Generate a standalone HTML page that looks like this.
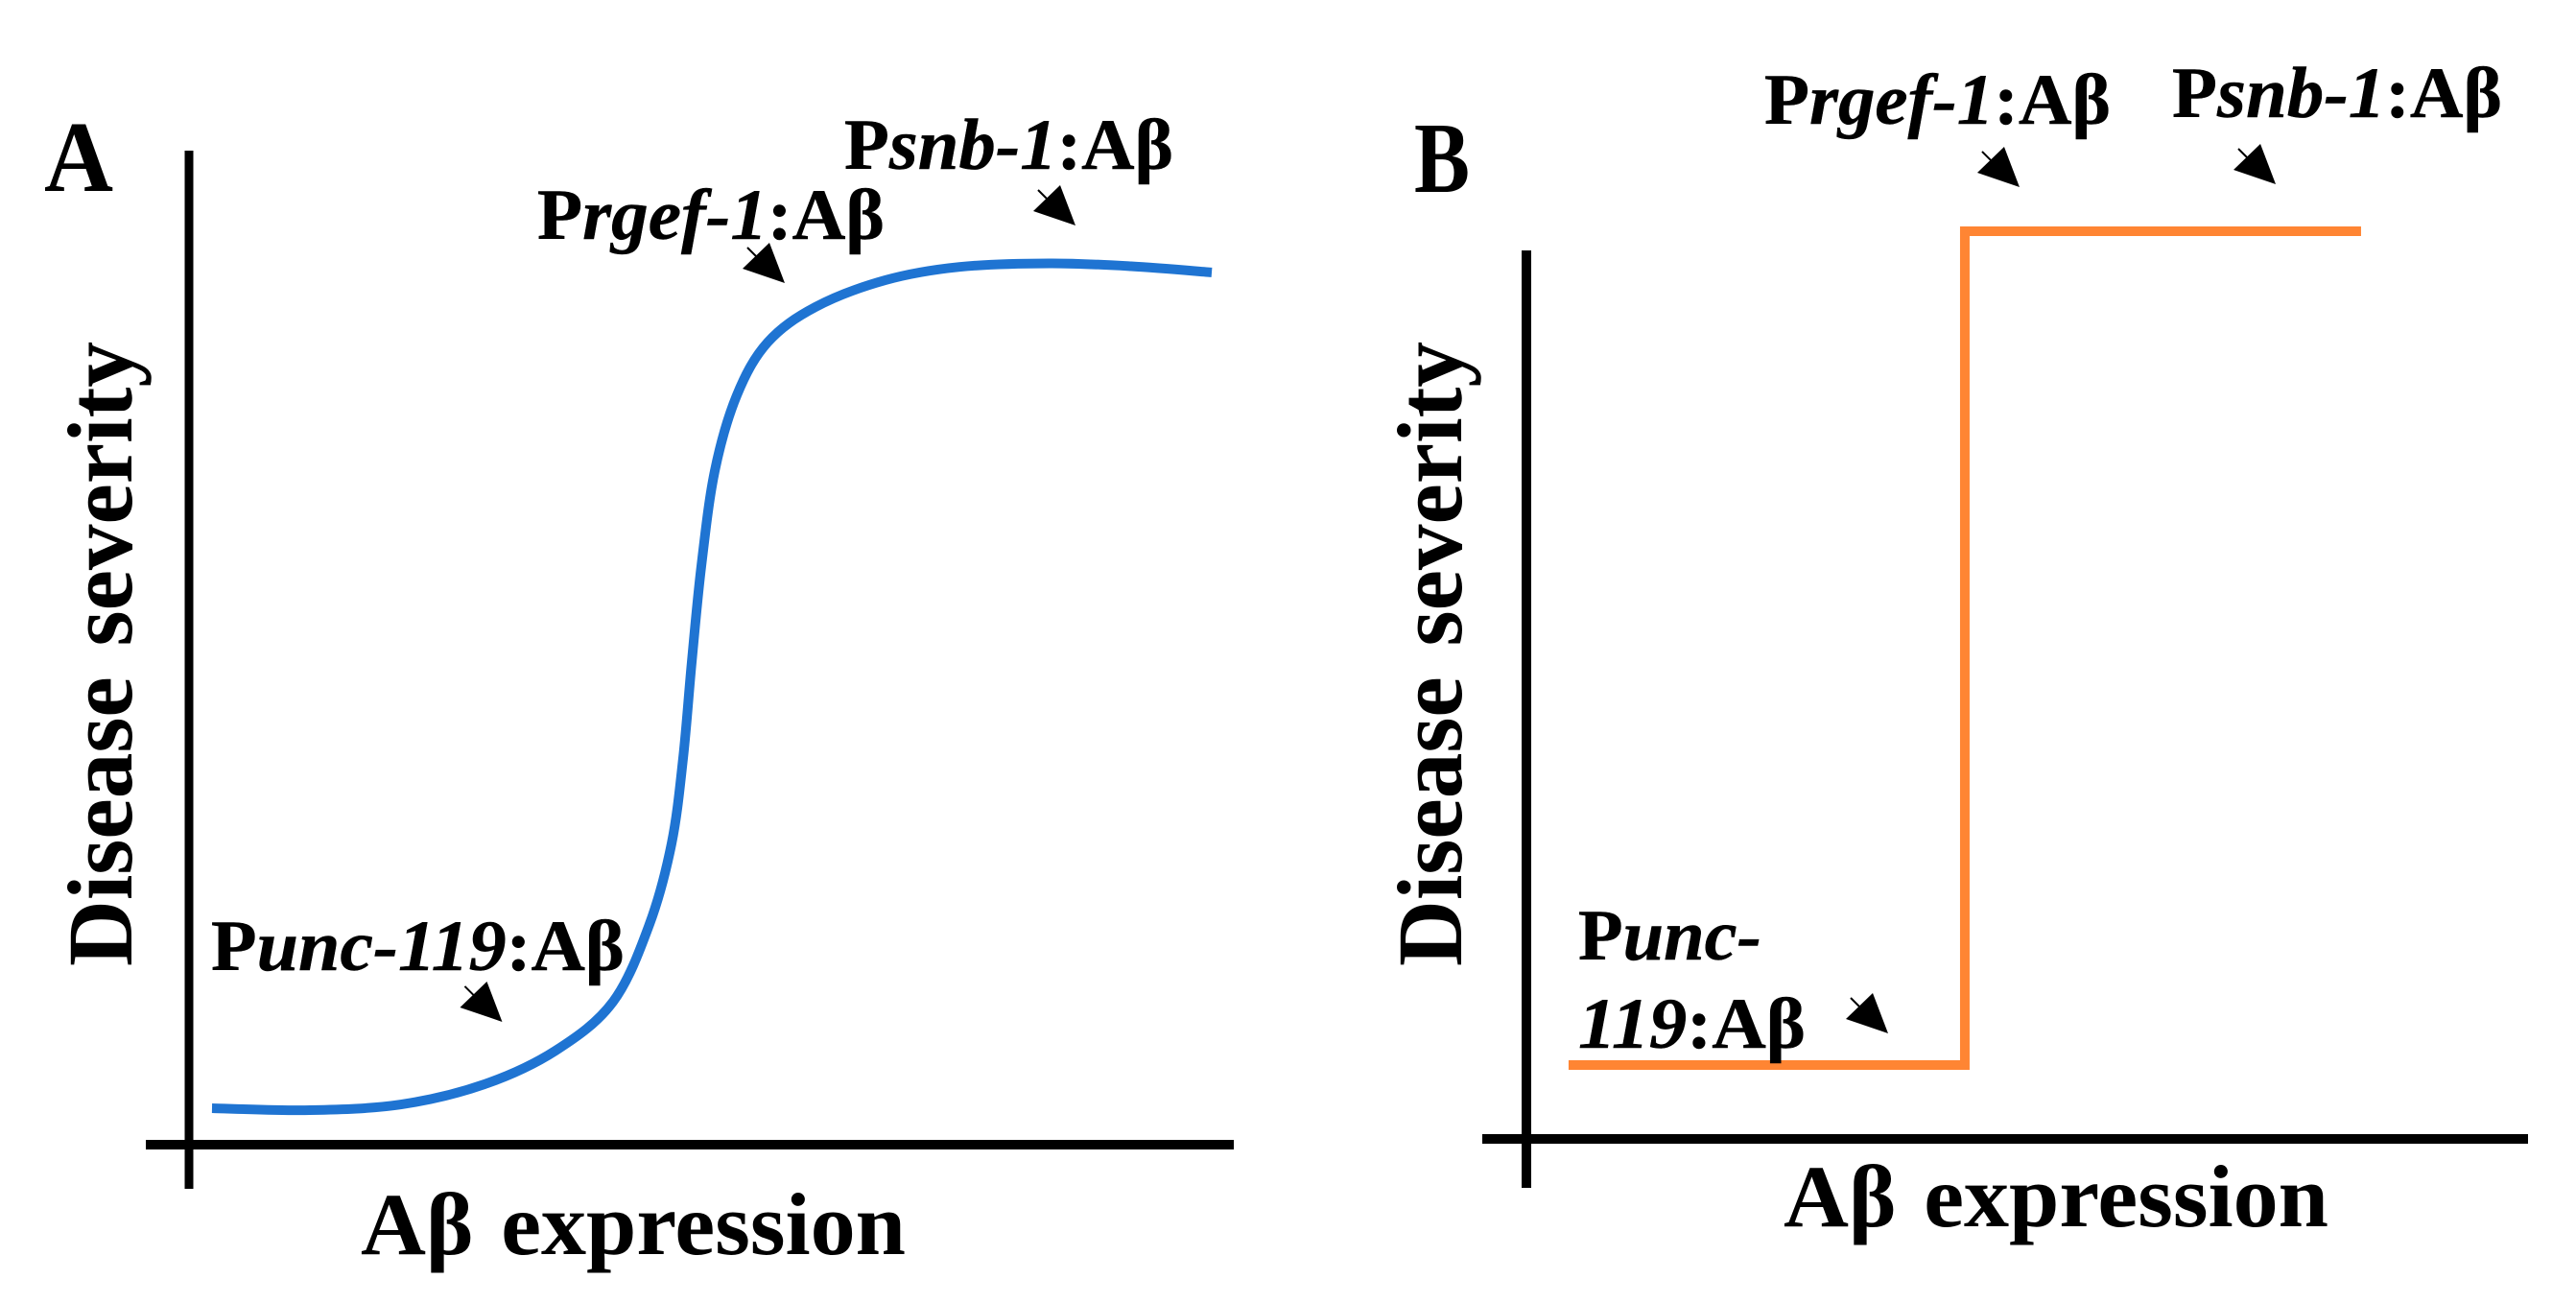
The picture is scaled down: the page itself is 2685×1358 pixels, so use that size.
<!DOCTYPE html>
<html lang="en">
<head>
<meta charset="utf-8">
<title>Disease severity vs A&#946; expression</title>
<style>
html,body{margin:0;padding:0;background:#fff;}
svg{display:block;}
text{font-family:"Liberation Serif","DejaVu Serif",serif;font-weight:bold;fill:#000;}
.panel{font-size:105px;}
.axis-title{font-size:92px;word-spacing:5px;}
.y-title{font-size:96px;word-spacing:8px;}
.note{font-size:75px;stroke:#000;stroke-width:0.5px;}
.it{font-style:italic;}
</style>
</head>
<body>
<svg id="figure" xmlns="http://www.w3.org/2000/svg" width="2685" height="1358" viewBox="0 0 2685 1358">
  <rect x="0" y="0" width="2685" height="1358" fill="#fff"/>

  <g id="panel-a">
    <text class="panel" x="46" y="199" textLength="72" lengthAdjust="spacingAndGlyphs">A</text>
    <line x1="197" y1="157" x2="197" y2="1239" stroke="#000" stroke-width="9"/>
    <line x1="152" y1="1193" x2="1286" y2="1193" stroke="#000" stroke-width="10"/>
    <text class="y-title" transform="translate(137,1007) rotate(-90)" textLength="651" lengthAdjust="spacingAndGlyphs">Disease severity</text>
    <text class="axis-title" x="376" y="1307" textLength="568" lengthAdjust="spacingAndGlyphs">A&#946; expression</text>
    <text class="note" x="880" y="176" textLength="343" lengthAdjust="spacingAndGlyphs">P<tspan class="it">snb-1</tspan>:A&#946;</text>
    <text class="note" x="560" y="249" textLength="362" lengthAdjust="spacingAndGlyphs">P<tspan class="it">rgef-1</tspan>:A&#946;</text>
    <text class="note" x="220" y="1011" textLength="431" lengthAdjust="spacingAndGlyphs">P<tspan class="it">unc-119</tspan>:A&#946;</text>
  </g>

  <g id="panel-b">
    <text class="panel" x="1474" y="200" textLength="58" lengthAdjust="spacingAndGlyphs">B</text>
    <line x1="1591" y1="261" x2="1591" y2="1238" stroke="#000" stroke-width="10"/>
    <line x1="1545" y1="1187" x2="2635" y2="1187" stroke="#000" stroke-width="10"/>
    <text class="y-title" transform="translate(1523,1007) rotate(-90)" textLength="651" lengthAdjust="spacingAndGlyphs">Disease severity</text>
    <text class="axis-title" x="1859" y="1278" textLength="568" lengthAdjust="spacingAndGlyphs">A&#946; expression</text>
    <text class="note" x="1839" y="129" textLength="361" lengthAdjust="spacingAndGlyphs">P<tspan class="it">rgef-1</tspan>:A&#946;</text>
    <text class="note" x="2264" y="122" textLength="344" lengthAdjust="spacingAndGlyphs">P<tspan class="it">snb-1</tspan>:A&#946;</text>
  </g>

  <g id="marks-a"></g>
  <g id="marks-b"></g>

  <text class="note" x="1645" y="1000" textLength="191" lengthAdjust="spacingAndGlyphs">P<tspan class="it">unc-</tspan></text>
  <text class="note" x="1645" y="1092" textLength="237" lengthAdjust="spacingAndGlyphs"><tspan class="it">119</tspan>:A&#946;</text>
</svg>

<script>
// Panel A: sigmoid curve (expression, severity), both on a 0-100 axis scale
const curveAExpression = [2.2, 11.56, 20.28, 28.26, 35.05, 40.55, 44.04, 46.15, 47.25, 48.07, 48.99, 50.28, 52.39, 55.32, 59.91, 66.6, 73.67, 82.3, 90.09, 97.8];
const curveASeverity = [3.67, 3.47, 4.05, 6.08, 9.46, 14.38, 22.2, 30.31, 38.9, 48.5, 58.2, 67.8, 75.4, 80.7, 84.27, 86.97, 88.3, 88.66, 88.37, 87.75];

// Panel B: step curve
const stepBExpression = [4.21, 43.77, 43.77, 83.33];
const stepBSeverity = [8.32, 8.32, 102.16, 102.16];

// Annotation arrow tips
const arrowsAExpression = [29.95, 56.97, 84.77];
const arrowsASeverity = [12.36, 86.68, 92.47];
const arrowsBExpression = [36.11, 49.23, 74.81];
const arrowsBSeverity = [11.88, 107.13, 107.45];

const NS = 'http://www.w3.org/2000/svg';
const xA = v => 197 + v * 10.9;
const yA = v => 1193 - v * 10.36;
const xB = v => 1591 + v * 10.44;
const yB = v => 1187 - v * 9.26;

function smoothPath(px, py) {
  let d = 'M' + px[0] + ' ' + py[0];
  for (let i = 0; i < px.length - 1; i++) {
    const i0 = Math.max(i - 1, 0), i3 = Math.min(i + 2, px.length - 1);
    const c1x = px[i] + (px[i + 1] - px[i0]) / 6;
    const c1y = py[i] + (py[i + 1] - py[i0]) / 6;
    const c2x = px[i + 1] - (px[i3] - px[i]) / 6;
    const c2y = py[i + 1] - (py[i3] - py[i]) / 6;
    d += 'C' + c1x + ' ' + c1y + ' ' + c2x + ' ' + c2y + ' ' + px[i + 1] + ' ' + py[i + 1];
  }
  return d;
}

function drawArrows(parent, xs, ys, xScale, yScale, prefix) {
  xs.forEach((v, i) => {
    const tx = xScale(v), ty = yScale(ys[i]);
    const head = document.createElementNS(NS, 'polygon');
    
    
    head.setAttribute('id', prefix + '-arrow-' + i);
    head.setAttribute('points', [tx, ty, tx - 44, ty - 15, tx - 16, ty - 42].join(' '));
    head.setAttribute('fill', '#000');
    parent.appendChild(head);
    const tail = document.createElementNS(NS, 'line');
    
    
    tail.setAttribute('x1', tx - 39);
    tail.setAttribute('y1', ty - 37);
    tail.setAttribute('x2', tx - 26);
    tail.setAttribute('y2', ty - 24);
    tail.setAttribute('stroke', '#000');
    tail.setAttribute('stroke-width', '2');
    parent.appendChild(tail);
  });
}

const marksA = document.getElementById('marks-a');
const marksB = document.getElementById('marks-b');

const curveA = document.createElementNS(NS, 'path');


curveA.setAttribute('d', smoothPath(curveAExpression.map(xA), curveASeverity.map(yA)));
curveA.setAttribute('fill', 'none');
curveA.setAttribute('stroke', '#1f74d2');
curveA.setAttribute('stroke-width', '10');
marksA.appendChild(curveA);

const stepB = document.createElementNS(NS, 'polyline');


stepB.setAttribute('points', stepBExpression.map((v, i) => xB(v) + ',' + yB(stepBSeverity[i])).join(' '));
stepB.setAttribute('fill', 'none');
stepB.setAttribute('stroke', '#ff8533');
stepB.setAttribute('stroke-width', '10');
stepB.setAttribute('stroke-linejoin', 'miter');
marksB.appendChild(stepB);

drawArrows(marksA, arrowsAExpression, arrowsASeverity, xA, yA, 'a');
drawArrows(marksB, arrowsBExpression, arrowsBSeverity, xB, yB, 'b');
</script>
</body>
</html>
